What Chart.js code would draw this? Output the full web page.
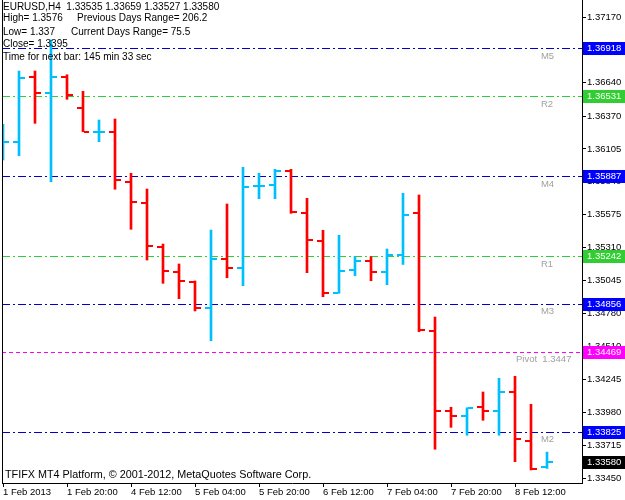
<!DOCTYPE html>
<html><head><meta charset="utf-8">
<style>html,body{margin:0;padding:0;background:#fff;}canvas{display:block;}</style>
<script src="https://cdn.jsdelivr.net/npm/chart.js@4.4.1/dist/chart.umd.min.js"></script>
</head><body>
<canvas id="c" width="625" height="500"></canvas>
<script>
// ---- data ----
const barTimes = [
 '2013.02.01 04:00','2013.02.01 08:00','2013.02.01 12:00','2013.02.01 16:00','2013.02.01 20:00',
 '2013.02.04 00:00','2013.02.04 04:00','2013.02.04 08:00','2013.02.04 12:00','2013.02.04 16:00','2013.02.04 20:00',
 '2013.02.05 00:00','2013.02.05 04:00','2013.02.05 08:00','2013.02.05 12:00','2013.02.05 16:00','2013.02.05 20:00',
 '2013.02.06 00:00','2013.02.06 04:00','2013.02.06 08:00','2013.02.06 12:00','2013.02.06 16:00','2013.02.06 20:00',
 '2013.02.07 00:00','2013.02.07 04:00','2013.02.07 08:00','2013.02.07 12:00','2013.02.07 16:00','2013.02.07 20:00',
 '2013.02.08 00:00','2013.02.08 04:00','2013.02.08 08:00','2013.02.08 12:00','2013.02.08 16:00','2013.02.08 20:00'
];
const opens  = [1.36097,1.36164,1.36683,1.36559,1.36688,1.36438,1.36244,1.36244,1.35841,1.35672,1.35317,1.35110,1.35029,1.34822,1.35220,1.35147,1.35809,1.35817,1.35930,1.35591,1.35365,1.34943,1.35131,1.35204,1.35112,1.35250,1.35586,1.34639,1.33991,1.33953,1.34026,1.33993,1.34147,1.33751,1.33535];
const highs  = [1.36304,1.36734,1.36734,1.36984,1.36704,1.36570,1.36339,1.36347,1.35909,1.35782,1.35338,1.35177,1.35040,1.35451,1.35661,1.35957,1.35909,1.35941,1.35941,1.35707,1.35449,1.35409,1.35236,1.35236,1.35298,1.35747,1.35734,1.34749,1.34021,1.34017,1.34144,1.34255,1.34271,1.34045,1.33659];
const lows   = [1.36016,1.36051,1.36312,1.35841,1.36506,1.36244,1.36164,1.35780,1.35457,1.35209,1.35021,1.34897,1.34798,1.34558,1.35066,1.35002,1.35704,1.35704,1.35586,1.35107,1.34913,1.34941,1.35083,1.35042,1.35010,1.35173,1.34631,1.33682,1.33859,1.33795,1.33916,1.33795,1.33582,1.33515,1.33527];
const closes = [1.36159,1.36680,1.36559,1.36688,1.36543,1.36244,1.36246,1.35855,1.35680,1.35325,1.35123,1.35037,1.34824,1.35220,1.35147,1.35801,1.35810,1.35930,1.35597,1.35371,1.34943,1.35123,1.35204,1.35112,1.35247,1.35576,1.34642,1.33993,1.33953,1.34015,1.33993,1.34147,1.33762,1.33525,1.33580];

const xTickIndexes = [0,4,8,12,16,20,24,28,32];
const xTickLabels  = ['1 Feb 2013','1 Feb 20:00','4 Feb 12:00','5 Feb 04:00','5 Feb 20:00','6 Feb 12:00','7 Feb 04:00','7 Feb 20:00','8 Feb 12:00'];
const yTickValues  = [1.37170,1.36905,1.36640,1.36370,1.36105,1.35840,1.35575,1.35310,1.35045,1.34780,1.34510,1.34245,1.33980,1.33715,1.33450];

const levelNames  = ['M5','R2','M4','R1','M3','Pivot','M2'];
const levelValues = [1.36918,1.36531,1.35887,1.35242,1.34856,1.34469,1.33825];
const levelTexts  = ['M5','R2','M4','R1','M3','Pivot  1.3447','M2'];
const currentPrice = 1.33580;

const headerLines = [
  ['EURUSD,H4  1.33535 1.33659 1.33527 1.33580'],
  ['High= 1.3576','Previous Days Range= 206.2'],
  ['Low= 1.337','Current Days Range= 75.5'],
  ['Close= 1.3395'],
  ['Time for next bar: 145 min 33 sec']
];
const footerText = 'TFIFX MT4 Platform, \u00A9 2001-2012, MetaQuotes Software Corp.';

// ---- styling ----
const UP = '#00BFFF', DOWN = '#FF0000';
const FONT = '"Liberation Sans", Arial, sans-serif';
const isUp = closes.map((c,i)=> c >= opens[i]);
function tickImg(color, side){
  const c = document.createElement('canvas'); c.width = 12; c.height = 2;
  const g = c.getContext('2d'); g.fillStyle = color;
  if (side === 'L') g.fillRect(0,0,5,2); else g.fillRect(7,0,5,2);
  return c;
}
const imgs = {UL: tickImg(UP,'L'), DL: tickImg(DOWN,'L'), UR: tickImg(UP,'R'), DR: tickImg(DOWN,'R')};
function levelStyle(name){
  if (name[0]==='M') return {line:'#0000CD', box:'#0000FF', dash:[8,3,2,3]};
  if (name[0]==='R') return {line:'#32CD32', box:'#32CD32', dash:[8,3,2,3]};
  return {line:'#FF00FF', box:'#FF00FF', dash:[4,3]};
}
function noPad(s){ s.paddingTop = 0; s.paddingBottom = 0; s.paddingLeft = 0; s.paddingRight = 0; }

const mtPlugin = {
  id: 'mt',
  beforeDatasetsDraw(chart){
    const {ctx, chartArea:a, scales:{y}} = chart;
    ctx.save();
    levelValues.forEach((v,i)=>{
      const st = levelStyle(levelNames[i]);
      const py = Math.round(y.getPixelForValue(v)) + 0.5;
      ctx.strokeStyle = st.line; ctx.lineWidth = 1; ctx.setLineDash(st.dash);
      ctx.beginPath(); ctx.moveTo(a.left, py); ctx.lineTo(a.right, py); ctx.stroke();
    });
    ctx.restore();
  },
  afterDatasetsDraw(chart){
    const {ctx, chartArea:a, scales:{x,y}} = chart;
    ctx.save();
    ctx.strokeStyle = '#000'; ctx.lineWidth = 1; ctx.setLineDash([]);
    ctx.beginPath(); ctx.moveTo(a.left+0.5, a.top); ctx.lineTo(a.left+0.5, a.bottom); ctx.stroke();
    ctx.font = '9.5px ' + FONT; ctx.fillStyle = '#A0A0A0'; ctx.textBaseline = 'middle'; ctx.textAlign = 'left';
    levelValues.forEach((v,i)=>{
      const px = levelNames[i]==='Pivot' ? x.getPixelForValue(32.06) : x.getPixelForValue(33.62);
      ctx.fillText(levelTexts[i], px, y.getPixelForValue(v) + 8);
    });
    ctx.fillStyle = '#000';
    ctx.font = '10px ' + FONT;
    const rowsY = [7.5, 18, 32.5, 44.5, 57.5];
    const colX = [[3],[3,77],[3,71],[3],[3]];
    headerLines.forEach((row,r)=> row.forEach((t,c)=> ctx.fillText(t, colX[r][c], rowsY[r])));
    ctx.font = '10.8px ' + FONT;
    ctx.fillText(footerText, 5, 475);
    ctx.restore();
  },
  afterDraw(chart){
    const {ctx, chartArea:a, scales:{y}} = chart;
    ctx.save();
    ctx.font = '9.5px ' + FONT; ctx.textBaseline = 'middle'; ctx.textAlign = 'left';
    const boxes = levelValues.map((v,i)=>({v, c: levelStyle(levelNames[i]).box}));
    boxes.push({v: currentPrice, c: '#000'});
    boxes.forEach(b=>{
      const py = Math.round(y.getPixelForValue(b.v));
      ctx.fillStyle = b.c; ctx.fillRect(a.right+1, py-6, chart.width - a.right - 1, 13);
      ctx.fillStyle = '#fff'; ctx.fillText(b.v.toFixed(5), a.right+5, py+0.5);
    });
    ctx.restore();
  }
};

Chart.defaults.font.family = FONT;
Chart.defaults.font.size = 9.5;
Chart.defaults.color = '#000';

new Chart(document.getElementById('c'), {
  type: 'bar',
  data: {
    datasets: [
      { type:'bar', label:'HL', data: highs.map((h,i)=>({x:i, y:[lows[i], h]})),
        backgroundColor: isUp.map(u=> u?UP:DOWN), barThickness: 2, borderWidth: 0, order: 3 },
      { type:'line', label:'Open', data: opens.map((o,i)=>({x:i, y:o})), showLine:false,
        pointRadius: 3, pointHoverRadius: 3,
        pointStyle: ctx => isUp[ctx.dataIndex] ? imgs.UL : imgs.DL, order: 2 },
      { type:'line', label:'Close', data: closes.map((c,i)=>({x:i, y:c})), showLine:false,
        pointRadius: 3, pointHoverRadius: 3,
        pointStyle: ctx => isUp[ctx.dataIndex] ? imgs.UR : imgs.DR, order: 1 }
    ]
  },
  options: {
    responsive: false, animation: false, events: [], devicePixelRatio: 1,
    layout: { autoPadding: false, padding: { left: 2, top: 0, right: 0, bottom: 0 } },
    plugins: { legend: {display:false}, tooltip: {enabled:false} },
    scales: {
      x: {
        type: 'linear', offset: false, min: -0.0625, max: 36.1875,
        afterBuildTicks: s => { s.ticks = xTickIndexes.map(v=>({value:v})); },
        afterFit: s => { s.height = 17; noPad(s); },
        grid: { drawOnChartArea: false, drawTicks: true, tickLength: 4, color: '#000', offset: false },
        border: { display: true, color: '#000' },
        ticks: { autoSkip: false, maxRotation: 0, minRotation: 0, align: 'start', padding: 0,
                 callback: v => xTickLabels[xTickIndexes.indexOf(v)] }
      },
      y: {
        type: 'linear', position: 'right', min: 1.334098, max: 1.373072,
        afterBuildTicks: s => { s.ticks = yTickValues.map(v=>({value:v})); },
        afterFit: s => { s.width = 43; noPad(s); },
        grid: { drawOnChartArea: false, drawTicks: true, tickLength: 4, color: '#000' },
        border: { display: true, color: '#000' },
        ticks: { autoSkip: false, padding: 1, callback: v => v.toFixed(5) }
      }
    }
  },
  plugins: [mtPlugin]
});
</script>
</body></html>
